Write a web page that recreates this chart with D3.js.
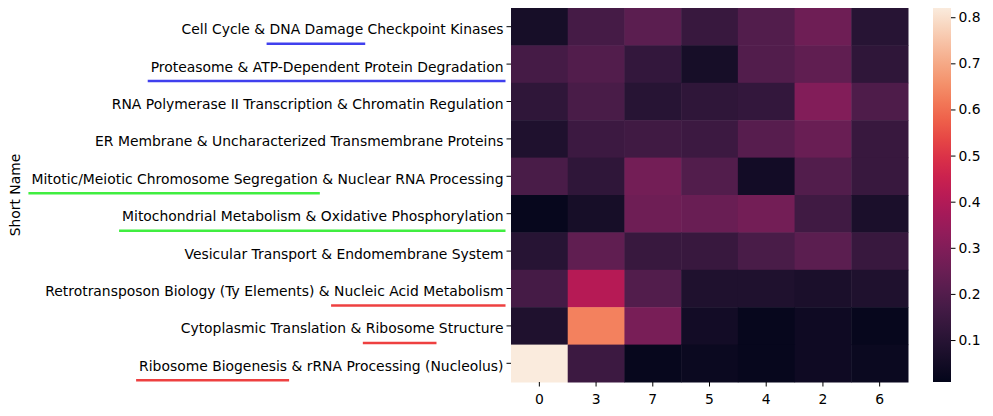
<!DOCTYPE html><html><head><meta charset="utf-8">
<script src="https://cdn.jsdelivr.net/npm/d3@7"></script>
<style>body{margin:0;background:#fff}text{font-family:"DejaVu Sans";}</style></head><body>
<svg id="c" width="993" height="416"></svg>
<script>
const rows=["Cell Cycle & DNA Damage Checkpoint Kinases","Proteasome & ATP-Dependent Protein Degradation","RNA Polymerase II Transcription & Chromatin Regulation","ER Membrane & Uncharacterized Transmembrane Proteins","Mitotic/Meiotic Chromosome Segregation & Nuclear RNA Processing","Mitochondrial Metabolism & Oxidative Phosphorylation","Vesicular Transport & Endomembrane System","Retrotransposon Biology (Ty Elements) & Nucleic Acid Metabolism","Cytoplasmic Translation & Ribosome Structure","Ribosome Biogenesis & rRNA Processing (Nucleolus)"];
const cols=["0","3","7","5","4","2","6"];
const values=[
[0.06,0.17,0.22,0.14,0.20,0.26,0.10],
[0.17,0.20,0.13,0.06,0.20,0.23,0.12],
[0.12,0.18,0.10,0.12,0.13,0.30,0.19],
[0.08,0.15,0.16,0.15,0.21,0.25,0.14],
[0.18,0.12,0.27,0.20,0.05,0.20,0.14],
[0.02,0.06,0.26,0.25,0.27,0.16,0.07],
[0.10,0.23,0.14,0.14,0.18,0.22,0.14],
[0.17,0.41,0.20,0.08,0.08,0.07,0.08],
[0.08,0.63,0.28,0.05,0.02,0.04,0.02],
[0.82,0.15,0.02,0.03,0.02,0.04,0.03]];
const cbTicks=[0.1,0.2,0.3,0.4,0.5,0.6,0.7,0.8];
const highlights=[[0,"DNA Damage","#4040ee"],[1,"Proteasome & ATP-Dependent Protein Degradation","#4040ee"],[4,"Mitotic/Meiotic Chromosome Segregation","#40ee40"],[5,"Mitochondrial Metabolism & Oxidative Phosphorylation","#40ee40"],[7,"Nucleic Acid Metabolism","#ee4040"],[8,"Ribosome","#ee4040"],[9,"Ribosome Biogenesis","#ee4040"]];
const vmin=0.009,vmax=0.82;
const rocket=["#03051A","#221331","#451C47","#6A1F56","#921C5B","#B91657","#DD2C45","#F06043","#F5936A","#F6BE9F","#FAEBDD"];
const interp=d3.interpolateRgbBasis(rocket);
const color=v=>interp(Math.max(0,Math.min(1,(v-vmin)/(vmax-vmin))));
const svg=d3.select("#c");
const L=511,R=908,T=8,B=382,FS="13.9px";
const x=d3.scaleBand().domain(cols).range([L,R]);
const y=d3.scaleBand().domain(rows).range([T,B]);
rows.forEach((r,i)=>cols.forEach((c,j)=>svg.append("rect").attr("x",x(c)).attr("y",y(r)).attr("width",x.bandwidth()+0.5).attr("height",y.bandwidth()+0.5).attr("fill",color(values[i][j]))));
const ax=svg.append("g").attr("transform",`translate(0,${B})`).call(d3.axisBottom(x).tickSize(4.5));
const ay=svg.append("g").attr("transform",`translate(${L},0)`).call(d3.axisLeft(y).tickSize(4.5));
[ax,ay].forEach(a=>{a.select(".domain").remove();a.selectAll("text").style("font-size",FS).attr("fill","#000");a.selectAll("line").attr("stroke","#000");});
ax.selectAll("text").attr("dy","1.05em");
ay.selectAll("text").attr("y",3);
svg.append("text").attr("transform","translate(20,195) rotate(-90)").attr("text-anchor","middle").style("font-size",FS).text("Short Name");
ay.selectAll(".tick").each(function(d){
 const t=d3.select(this).select("text").node();const i=rows.indexOf(d);
 highlights.filter(h=>h[0]===i).forEach(h=>{
  const k=d.indexOf(h[1]);const x0=t.getSubStringLength(0,k);const w=t.getSubStringLength(k,h[1].length);
  const tot=t.getComputedTextLength();const start=-7.5-tot+x0;
  d3.select(this).append("line").attr("x1",start-3).attr("x2",start+w+2).attr("y1",17).attr("y2",17).attr("stroke",h[2]).attr("stroke-width",2.5);
 });
});
const cb=d3.scaleLinear().domain([vmin,vmax]).range([B,T]);
const defs=svg.append("defs");const g=defs.append("linearGradient").attr("id","g").attr("x1",0).attr("x2",0).attr("y1",1).attr("y2",0);
d3.range(0,1.001,0.05).forEach(s=>g.append("stop").attr("offset",s).attr("stop-color",interp(s)));
svg.append("rect").attr("x",933).attr("y",T).attr("width",18).attr("height",B-T).attr("fill","url(#g)");
const ac=svg.append("g").attr("transform","translate(951,0)").call(d3.axisRight(cb).tickValues(cbTicks).tickFormat(d3.format(".1f")).tickSize(4.5));
ac.select(".domain").remove();ac.selectAll("text").style("font-size",FS).attr("fill","#000");ac.selectAll("line").attr("stroke","#000");
</script></body></html>
